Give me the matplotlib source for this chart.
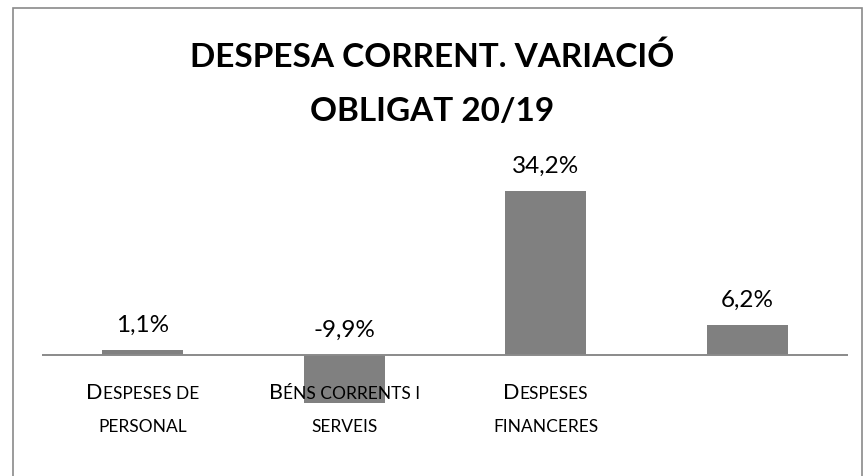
import matplotlib
matplotlib.use("Agg")
import matplotlib.pyplot as plt
from matplotlib.patches import Rectangle

categories = ["Despeses de\npersonal", "Béns corrents i\nserveis", "Despeses\nfinanceres", ""]
values = [1.1, -9.9, 34.2, 6.2]
value_labels = ["1,1%", "-9,9%", "34,2%", "6,2%"]
title_lines = ["DESPESA CORRENT. VARIACIÓ", "OBLIGAT 20/19"]

W, H = 865, 477
DPI = 100
FONT = "Lato"

fig = plt.figure(figsize=(W / DPI, H / DPI), dpi=DPI)
fig.patch.set_facecolor("white")

# outer chart frame (bottom edge cut off)
fig.add_artist(Rectangle((12.5 / W, -0.2), (862 - 12.5) / W, (H - 8.5) / H + 0.2,
                         transform=fig.transFigure, fill=False,
                         edgecolor="#8a8a8a", linewidth=1.2))

ax = fig.add_axes([42 / W, (H - 452) / H, 806 / W, 288 / H])
x = list(range(len(values)))
ax.bar(x, values, width=0.4, color="#808080", zorder=2)
ax.set_xlim(-0.5, len(values) - 0.5)
ax.set_ylim(-20, 40)
ax.axhline(0, color="#8a8a8a", linewidth=1.4, zorder=3)
for s in ax.spines.values():
    s.set_visible(False)
ax.set_xticks([])
ax.set_yticks([])
ax.patch.set_alpha(0)

for xi, v, lab in zip(x, values, value_labels):
    ax.annotate(lab, (xi, max(v, 0)), xytext=(0, 13.7), textcoords="offset points",
                ha="center", va="baseline", fontsize=17.5, family=FONT, color="#000000")

# title
fig.text(432 / W, 1 - 67 / H, title_lines[0], ha="center", va="baseline",
         fontsize=24, fontweight="bold", family=FONT)
fig.text(432 / W, 1 - 121 / H, title_lines[1], ha="center", va="baseline",
         fontsize=24, fontweight="bold", family=FONT)

# small-caps category labels
fig.canvas.draw()
renderer = fig.canvas.get_renderer()
BIG, SMALL = 15.5, 12.5


def runs_of(line):
    runs = []
    for ch in line:
        big = ch.isupper()
        txt = ch.upper()
        if runs and runs[-1][1] == big:
            runs[-1][0] += txt
        else:
            runs.append([txt, big])
    return runs


def draw_smallcaps(xc, y_base_px, line):
    texts = []
    total = 0
    for txt, big in runs_of(line):
        t = fig.text(0, 0, txt, transform=None, ha="left", va="baseline",
                     fontsize=BIG if big else SMALL, family=FONT, color="#000000")
        w = t.get_window_extent(renderer).width
        texts.append((t, w))
        total += w
    cur = xc - total / 2
    for t, w in texts:
        t.set_position((cur, H - y_base_px))
        cur += w


baselines = [399, 432]
for xi, cat in zip(x, categories):
    if not cat:
        continue
    xc = ax.transData.transform((xi, 0))[0]
    for line, yb in zip(cat.split("\n"), baselines):
        draw_smallcaps(xc, yb, line)

fig.savefig("out.png", dpi=DPI, facecolor="white")
